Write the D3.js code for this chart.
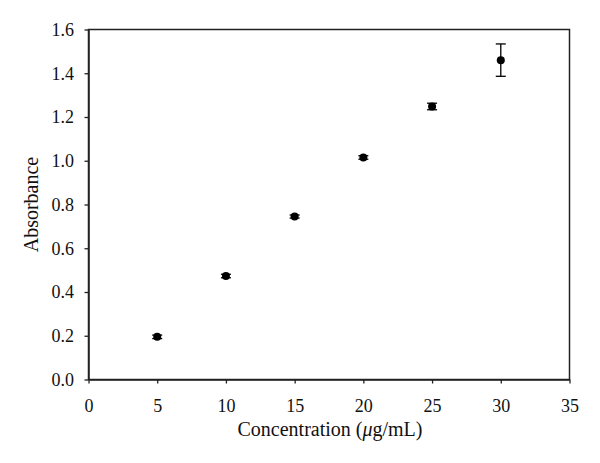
<!DOCTYPE html>
<html><head><meta charset="utf-8">
<script src="https://cdn.jsdelivr.net/npm/d3@7"></script>
<style>body{margin:0;background:#fff}svg{display:block}</style>
</head><body>
<svg id="c" width="600" height="463"></svg>
<script>
const concentrations = [5, 10, 15, 20, 25, 30];
const absorbance = [0.195, 0.473, 0.745, 1.015, 1.248, 1.460];
const errors = [0.008, 0.008, 0.007, 0.008, 0.015, 0.074];
const xTicks = [0, 5, 10, 15, 20, 25, 30, 35];
const yTicks = [0, 0.2, 0.4, 0.6, 0.8, 1.0, 1.2, 1.4, 1.6];

const svg = d3.select("#c");
const m = {l: 88.5, t: 29.5, r: 569.5, b: 379.5};
const x = d3.scaleLinear().domain([0, 35]).range([m.l, m.r]);
const y = d3.scaleLinear().domain([0, 1.6]).range([m.b, m.t]);
const font = "'Liberation Serif', 'DejaVu Serif', serif";

svg.append("rect").attr("x", m.l).attr("y", m.t).attr("width", m.r - m.l).attr("height", m.b - m.t)
  .attr("fill", "none").attr("stroke", "#222").attr("stroke-width", 1.5);

const xa = svg.append("g").attr("transform", `translate(0,${m.b})`)
  .call(d3.axisBottom(x).tickValues(xTicks).tickSize(4).tickPadding(16).tickSizeOuter(0).tickFormat(d3.format("d")));
const ya = svg.append("g").attr("transform", `translate(${m.l},0)`)
  .call(d3.axisLeft(y).tickValues(yTicks).tickSize(4).tickPadding(10.5).tickSizeOuter(0).tickFormat(d3.format(".1f")));
[xa, ya].forEach(g => {
  g.select(".domain").attr("stroke", "#222").attr("stroke-width", 1.5);
  g.selectAll(".tick line").attr("stroke", "#222").attr("stroke-width", 1.3);
  g.selectAll("text").attr("font-family", font).attr("font-size", 18).attr("fill", "#111");
});

const pts = concentrations.map((c, i) => ({c, a: absorbance[i], e: errors[i]}));
const g = svg.append("g");
pts.forEach(p => {
  const cx = x(p.c);
  g.append("line").attr("x1", cx).attr("x2", cx).attr("y1", y(p.a + p.e)).attr("y2", y(p.a - p.e))
    .attr("stroke", "#000").attr("stroke-width", 1.3);
  [p.a + p.e, p.a - p.e].forEach(v => g.append("line").attr("x1", cx - 5).attr("x2", cx + 5)
    .attr("y1", y(v)).attr("y2", y(v)).attr("stroke", "#000").attr("stroke-width", 1.3));
  g.append("circle").attr("cx", cx).attr("cy", y(p.a)).attr("r", 4).attr("fill", "#000");
});

svg.append("text").attr("x", 330).attr("y", 436).attr("text-anchor", "middle")
  .attr("font-family", font).attr("font-size", 20).attr("fill", "#111")
  .html('Concentration (<tspan font-style="italic">μ</tspan>g/mL)');
svg.append("text").attr("transform", `translate(38,${(m.t + m.b) / 2}) rotate(-90)`).attr("text-anchor", "middle")
  .attr("font-family", font).attr("font-size", 20).attr("fill", "#111").text("Absorbance");
</script>
</body></html>
